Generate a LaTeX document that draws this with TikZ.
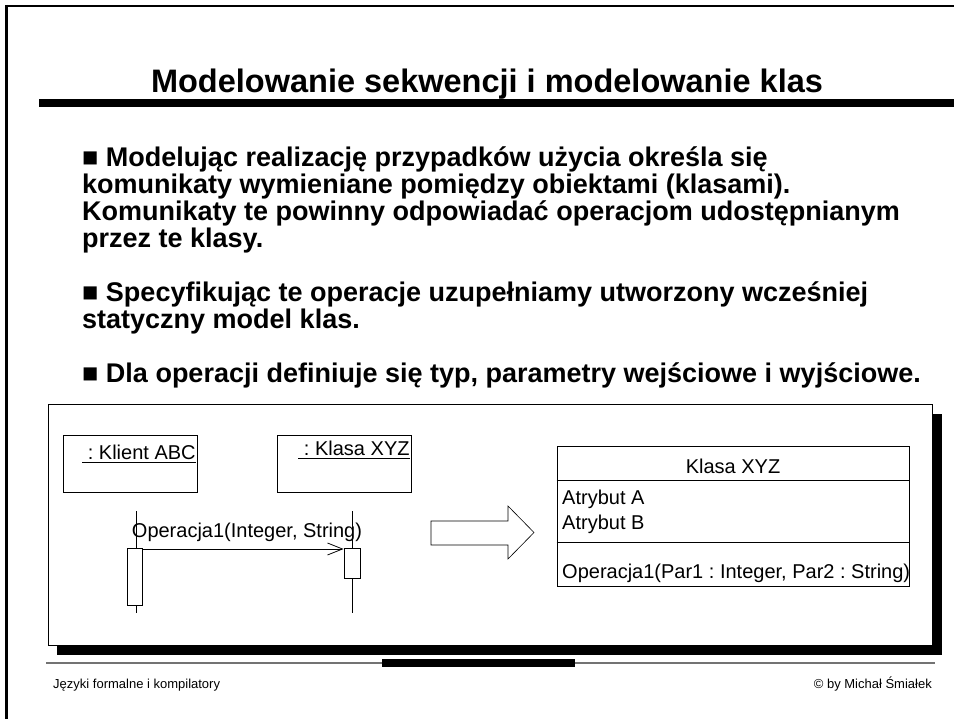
\documentclass[tikz,border=0pt]{standalone}
\usepackage{fontspec}
\setmainfont{Liberation Sans}
\usetikzlibrary{arrows.meta}
\frenchspacing
\tikzset{
  bul/.style={anchor=base west, inner sep=0pt, font=\bfseries\fontsize{27}{30}\selectfont},
  lbl/.style={inner sep=0pt, font=\fontsize{20}{24}\selectfont},
  objbox/.style={draw, line width=0.8pt, minimum width=134pt, minimum height=57pt, inner sep=0pt},
  act/.style={draw, fill=white, line width=0.8pt, minimum width=15pt, inner sep=0pt},
  life/.style={line width=0.8pt},
  msg/.style={line width=0.8pt, -{Straight Barb[length=15pt,width=12pt]}},
  uline/.style={line width=1.1pt},
  foot/.style={inner sep=0pt, font=\fontsize{13}{15}\selectfont}
}
\begin{document}
\begin{tikzpicture}[x=1pt,y=-1pt]
\useasboundingbox (0,0) rectangle (954,719);
\fill[white] (0,0) rectangle (954,719);
% frame
\draw[line width=3pt] (6,5) -- (6,719);
\draw[line width=2pt] (5,6) -- (954,6);
% title
\node[anchor=base, inner sep=0pt, font=\bfseries\fontsize{32.5}{38}\selectfont] (title) at (487,93) {Modelowanie sekwencji i modelowanie klas};
\fill (39,99) rectangle (954,107);
% bullets
\node[bul] (b1a) at (82,167) {■ Modelując realizację przypadków użycia określa się};
\node[bul] (b1b) at (82,194) {komunikaty wymieniane pomiędzy obiektami (klasami).};
\node[bul] (b1c) at (82,221) {Komunikaty te powinny odpowiadać operacjom udostępnianym};
\node[bul] (b1d) at (82,248) {przez te klasy.};
\node[bul] (b2a) at (82,302) {■ Specyfikując te operacje uzupełniamy utworzony wcześniej};
\node[bul] (b2b) at (82,329) {statyczny model klas.};
\node[bul] (b3a) at (82,383) {■ Dla operacji definiuje się typ, parametry wejściowe i wyjściowe.};
% panel
\fill (57,414) rectangle (942,655);
\draw[fill=white, line width=1pt] (48,404.5) rectangle (932,645.5);
% sequence diagram
\node[objbox] (klient) at (130,463.5) {};
\node[objbox] (klasa) at (344.5,463.5) {};
\node[lbl, anchor=base] (klientlbl) at (139,460) {\ : Klient ABC};
\node[lbl, anchor=base] (klasalbl) at (354,456) {\ : Klasa XYZ};
\draw[uline] ([yshift=-2.5pt]klientlbl.base west) -- ([yshift=-2.5pt]klientlbl.base east);
\draw[uline] ([yshift=-2.5pt]klasalbl.base west) -- ([yshift=-2.5pt]klasalbl.base east);
\coordinate (lAtop) at (136,511);
\coordinate (lAbot) at (136,613);
\coordinate (lBtop) at (352,511);
\coordinate (lBbot) at (352,613);
\draw[life] (lAtop) -- (lAbot);
\draw[life] (lBtop) -- (lBbot);
\node[act, minimum height=57pt] (actA) at (135,576.5) {};
\node[act, minimum height=30pt, minimum width=16pt] (actB) at (352,563) {};
\coordinate (msgy) at (0,549);
\draw[msg] (actA.east |- msgy) -- (actB.west |- msgy);
\node[lbl, anchor=base] (msglbl) at (247,537) {Operacja1(Integer, String)};
% block arrow
\draw[line width=0.6pt, fill=white] (431,521) -- (508,521) -- (508,506) -- (534,532.5) -- (508,559) -- (508,545) -- (431,545) -- cycle;
% class box
\node[draw, line width=0.8pt, minimum width=352pt, minimum height=140pt, inner sep=0pt] (cls) at (733,516.5) {};
\coordinate (d1) at (0,480);
\coordinate (d2) at (0,542);
\draw[line width=0.8pt] (cls.west |- d1) -- (cls.east |- d1);
\draw[line width=0.8pt] (cls.west |- d2) -- (cls.east |- d2);
\node[lbl, anchor=base] (clsname) at (733,474) {Klasa XYZ};
\node[lbl, anchor=base west] (atrA) at (562,504) {Atrybut A};
\node[lbl, anchor=base west] (atrB) at (562,529) {Atrybut B};
\node[lbl, anchor=base west] (oper) at (562,578) {Operacja1(Par1 : Integer, Par2 : String)};
% footer
\draw[line width=1.5pt, black!55] (46,663) -- (935,663);
\fill (382,659) rectangle (575,667);
\node[foot, anchor=base west] (fl) at (53,688) {Języki formalne i kompilatory};
\node[foot, anchor=base east] (fr) at (932,688) {© by Michał Śmiałek};
\end{tikzpicture}
\end{document}
